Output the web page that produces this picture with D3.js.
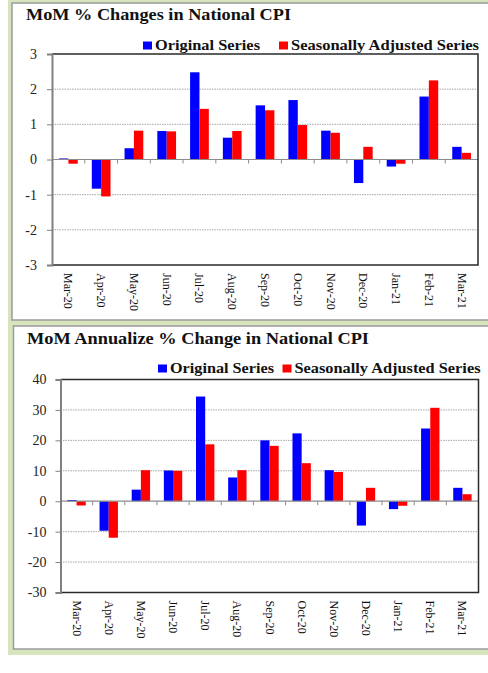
<!DOCTYPE html>
<html>
<head>
<meta charset="utf-8">
<script src="https://cdn.jsdelivr.net/npm/d3@7"></script>
<style>
  body { margin: 0; background: #fff; }
  svg { display: block; }
</style>
</head>
<body>
<svg id="chart"></svg>
<script>
const months = ['Mar-20', 'Apr-20', 'May-20', 'Jun-20', 'Jul-20', 'Aug-20', 'Sep-20',
    'Oct-20', 'Nov-20', 'Dec-20', 'Jan-21', 'Feb-21', 'Mar-21'];
const seriesNames = ['Original Series', 'Seasonally Adjusted Series'];

// MoM % change
const momOriginal = [0.03, -0.83, 0.32, 0.81, 2.48, 0.62, 1.54, 1.69, 0.82, -0.67, -0.20, 1.79, 0.36];
const momAdjusted = [-0.12, -1.05, 0.82, 0.80, 1.44, 0.81, 1.40, 0.98, 0.76, 0.36, -0.12, 2.25, 0.19];
const momTicks = [-3, -2, -1, 0, 1, 2, 3];

// MoM annualized % change
const annOriginal = [0.4, -9.7, 3.8, 10.1, 34.4, 7.8, 20.0, 22.3, 10.2, -8.0, -2.6, 23.9, 4.4];
const annAdjusted = [-1.4, -12.0, 10.2, 10.0, 18.7, 10.2, 18.2, 12.5, 9.6, 4.4, -1.5, 30.7, 2.3];
const annTicks = [-30, -20, -10, 0, 10, 20, 30, 40];

const width = 488;
const height = 673;
const serif = '"Liberation Serif", "Times New Roman", serif';
const colors = { 'Original Series': '#0000ff', 'Seasonally Adjusted Series': '#ff0000' };

const svg = d3.select('#chart')
    .attr('width', width)
    .attr('height', height);

// green backdrop behind the two panels
svg.append('rect')
    .attr('x', 8).attr('y', 0)
    .attr('width', width).attr('height', 655)
    .attr('fill', '#d7e4bd');

function drawPanel(cfg) {
    const g = svg.append('g');

    g.append('rect')
        .attr('x', cfg.box[0]).attr('y', cfg.box[1])
        .attr('width', width + 10 - cfg.box[0]).attr('height', cfg.box[2] - cfg.box[1])
        .attr('fill', '#fff')
        .attr('stroke', '#9a9a9a')
        .attr('stroke-width', 1.5);

    g.append('text')
        .attr('x', cfg.titleX).attr('y', cfg.titleY)
        .attr('textLength', cfg.titleLen)
        .attr('lengthAdjust', 'spacingAndGlyphs')
        .style('font-family', serif)
        .style('font-weight', 'bold')
        .style('font-size', '16px')
        .attr('fill', '#111')
        .text(cfg.title);

    const x0 = d3.scaleBand().domain(months).range([cfg.left, cfg.right]);
    const x1 = d3.scaleBand().domain(seriesNames).range([0, x0.bandwidth()]).paddingOuter(0.75);
    const y = d3.scaleLinear().domain(cfg.domain).range([cfg.bottom, cfg.top]);

    // gridlines
    g.append('g')
        .selectAll('line')
        .data(cfg.ticks.filter(t => t !== 0 && t !== cfg.domain[0] && t !== cfg.domain[1]))
        .enter()
        .append('line')
        .attr('x1', cfg.left).attr('x2', cfg.right)
        .attr('y1', d => y(d)).attr('y2', d => y(d))
        .attr('stroke', '#a8a8a8')
        .attr('stroke-dasharray', '1.5,1');

    // bars
    const rows = months.map((m, i) => ({ month: m, values: [cfg.series[0][i], cfg.series[1][i]] }));
    const groups = g.append('g')
        .selectAll('g')
        .data(rows)
        .enter()
        .append('g')
        .attr('transform', d => `translate(${x0(d.month)},0)`);

    groups.selectAll('rect')
        .data(d => d.values.map((v, k) => ({ name: seriesNames[k], value: v })))
        .enter()
        .append('rect')
        .attr('x', d => x1(d.name))
        .attr('width', x1.bandwidth())
        .attr('y', d => y(Math.max(0, d.value)))
        .attr('height', d => Math.abs(y(d.value) - y(0)))
        .attr('fill', d => colors[d.name]);

    // zero line with category ticks
    g.append('line')
        .attr('x1', cfg.left).attr('x2', cfg.right)
        .attr('y1', y(0)).attr('y2', y(0))
        .attr('stroke', '#8c8c8c')
        .attr('stroke-width', 1.2);

    g.append('g')
        .selectAll('line')
        .data(months.slice(1))
        .enter()
        .append('line')
        .attr('x1', d => x0(d)).attr('x2', d => x0(d))
        .attr('y1', y(0)).attr('y2', y(0) + 4)
        .attr('stroke', '#8c8c8c');

    // plot frame
    g.append('path')
        .attr('d', `M${cfg.left},${cfg.top}H${cfg.right}V${cfg.bottom}H${cfg.left}`)
        .attr('fill', 'none')
        .attr('stroke', '#2a2a2a')
        .attr('stroke-width', 1.5);

    // y axis
    const yAxis = g.append('g')
        .attr('transform', `translate(${cfg.left},0)`)
        .call(d3.axisLeft(y).tickValues(cfg.ticks).tickSize(5).tickPadding(cfg.tickPad).tickFormat(d => String(d)));
    yAxis.select('.domain').attr('stroke', '#808080').attr('stroke-width', 2);
    yAxis.selectAll('.tick line').attr('stroke', '#808080');
    yAxis.selectAll('.tick text')
        .style('font-family', serif)
        .style('font-size', '14px')
        .attr('fill', '#222');

    // x axis (rotated month labels)
    const xAxis = g.append('g')
        .attr('transform', `translate(0,${cfg.bottom})`)
        .call(d3.axisBottom(x0).tickSize(0));
    xAxis.select('.domain').remove();
    xAxis.selectAll('.tick text')
        .attr('transform', 'rotate(90)')
        .attr('x', 8).attr('y', 0)
        .attr('dy', '0.33em')
        .style('text-anchor', 'start')
        .style('font-family', serif)
        .style('font-size', '12px')
        .attr('fill', '#111');

    // legend
    const legend = g.append('g')
        .selectAll('g')
        .data(seriesNames)
        .enter()
        .append('g')
        .attr('transform', (d, i) => `translate(${cfg.legendX[i]},${cfg.legendY})`);

    legend.append('rect')
        .attr('x', 0).attr('y', -8)
        .attr('width', 9).attr('height', 8)
        .attr('fill', d => colors[d]);

    legend.append('text')
        .attr('x', 12).attr('y', 0)
        .attr('textLength', (d, i) => cfg.legendLen[i])
        .attr('lengthAdjust', 'spacingAndGlyphs')
        .style('font-family', serif)
        .style('font-weight', 'bold')
        .style('font-size', '14px')
        .attr('fill', '#111')
        .text(d => d);
}

drawPanel({
    box: [12, 3, 320],
    title: 'MoM % Changes in National CPI',
    titleX: 26, titleY: 20, titleLen: 265,
    left: 52, right: 478, top: 54, bottom: 265,
    domain: [-3, 3], ticks: momTicks, tickPad: 10,
    series: [momOriginal, momAdjusted],
    legendX: [143, 279], legendY: 49.5, legendLen: [105, 188]
});

drawPanel({
    box: [13.5, 326, 649],
    title: 'MoM Annualize % Change in National CPI',
    titleX: 27, titleY: 344, titleLen: 342,
    left: 60.5, right: 478.5, top: 379.5, bottom: 592.5,
    domain: [-30, 40], ticks: annTicks, tickPad: 9,
    series: [annOriginal, annAdjusted],
    legendX: [158, 282.5], legendY: 372.5, legendLen: [104, 186]
});
</script>
</body>
</html>
